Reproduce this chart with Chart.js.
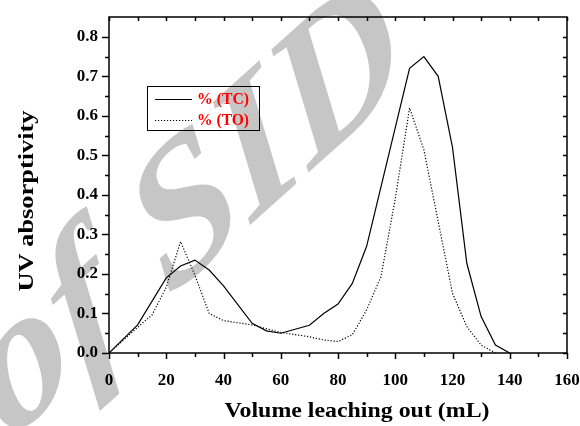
<!DOCTYPE html>
<html>
<head>
<meta charset="utf-8">
<script src="https://cdn.jsdelivr.net/npm/chart.js@4.4.0/dist/chart.umd.min.js"></script>
<style>
  html, body { margin: 0; padding: 0; background: #fff; }
  #wrap { width: 580px; height: 426px; }
</style>
</head>
<body>
<div id="wrap"><canvas id="chart" width="580" height="426"></canvas></div>
<script>
// volume leaching out (mL) and UV absorptivity
var tcVolume = [0, 10, 20, 25, 30, 35, 40, 50, 55, 60, 70, 75, 80, 85, 90, 105, 110, 115, 120, 125, 130, 135, 140];
var tcValues = [0, 0.071, 0.19, 0.22, 0.235, 0.21, 0.17, 0.075, 0.056, 0.05, 0.07, 0.10, 0.124, 0.176, 0.27, 0.72, 0.75, 0.70, 0.52, 0.227, 0.092, 0.02, 0];
var toVolume = [0, 10, 15, 20, 25, 30, 35, 40, 50, 60, 70, 75, 80, 85, 90, 95, 100, 105, 110, 120, 125, 130, 135];
var toValues = [0, 0.065, 0.096, 0.166, 0.282, 0.197, 0.10, 0.082, 0.071, 0.052, 0.041, 0.033, 0.029, 0.046, 0.109, 0.193, 0.39, 0.62, 0.514, 0.151, 0.067, 0.02, 0];
var seriesLabels = ['% (TC)', '% (TO)'];
var xTitle = 'Volume leaching out (mL)';
var yTitle = 'UV absorptivity';
var watermark = 'of SID';

var SERIF = '"Liberation Serif", "Times New Roman", serif';

function pairs(xs, ys) {
  return xs.map(function(x, i) { return {x: x, y: ys[i]}; });
}

// watermark, axis frame with minor ticks, titles and legend box
var decor = {
  id: 'decor',
  beforeDraw: function(chart) {
    var c = chart.ctx;
    c.save();
    // baseline climbs to the upper right, letter stems close to vertical
    c.transform(1.486, -1.338, 0.827, 1.644, 8, 443);
    c.font = 'bold italic 100px ' + SERIF;
    c.fillStyle = '#c6c6c6';
    c.textBaseline = 'alphabetic';
    c.fillText(watermark, 0, 0);
    c.restore();
  },
  afterDraw: function(chart) {
    var c = chart.ctx, a = chart.chartArea;
    var xs = chart.scales.x, ys = chart.scales.y;
    c.save();
    c.strokeStyle = '#000';
    c.lineWidth = 1.5;
    c.strokeRect(a.left, a.top, a.right - a.left, a.bottom - a.top);
    c.beginPath();
    for (var v = 0; v <= 160; v += 10) {
      var px = Math.round(xs.getPixelForValue(v)) + 0.5;
      var big = v % 20 === 0;
      c.moveTo(px, a.bottom); c.lineTo(px, a.bottom + (big ? 6 : 4));
      c.moveTo(px, a.top); c.lineTo(px, a.top + 4);
    }
    for (var k = 0; k <= 16; k++) {
      var py = Math.round(ys.getPixelForValue(k * 0.05)) + 0.5;
      var major = k % 2 === 0;
      c.moveTo(a.left, py); c.lineTo(a.left - (major ? 7 : 4), py);
      c.moveTo(a.right, py); c.lineTo(a.right - 4, py);
    }
    c.stroke();

    // axis titles
    c.fillStyle = '#000';
    c.font = 'bold 21px ' + SERIF;
    c.textAlign = 'center';
    c.textBaseline = 'alphabetic';
    var w = c.measureText(xTitle).width;
    c.save();
    c.translate(357, 417);
    c.scale(265 / w, 1);
    c.fillText(xTitle, 0, 0);
    c.restore();

    c.font = 'bold 22px ' + SERIF;
    w = c.measureText(yTitle).width;
    c.save();
    c.translate(33, 201);
    c.rotate(-Math.PI / 2);
    c.scale(181 / w, 1);
    c.fillText(yTitle, 0, 0);
    c.restore();

    // legend
    c.lineWidth = 1;
    c.strokeRect(147.5, 86.5, 112, 44);
    c.font = 'bold 16px ' + SERIF;
    c.textAlign = 'left';
    c.textBaseline = 'middle';
    chart.data.datasets.forEach(function(ds, i) {
      var ly = (i === 0 ? 99 : 120) + 0.5;
      c.strokeStyle = '#000';
      c.lineWidth = 1;
      c.setLineDash(ds.borderDash || []);
      c.beginPath();
      c.moveTo(155, ly); c.lineTo(192, ly);
      c.stroke();
      c.setLineDash([]);
      c.fillStyle = '#ff0000';
      var tw = c.measureText(ds.label).width;
      c.save();
      c.translate(197, ly);
      c.scale(52 / tw, 1);
      c.fillText(ds.label, 0, 0);
      c.restore();
    });
    c.restore();
  }
};

var chart = new Chart(document.getElementById('chart'), {
  type: 'line',
  data: {
    datasets: [{
      label: seriesLabels[0],
      data: pairs(tcVolume, tcValues),
      borderColor: '#000',
      borderWidth: 1.2,
      pointRadius: 0,
      tension: 0
    }, {
      label: seriesLabels[1],
      data: pairs(toVolume, toValues),
      borderColor: '#000',
      borderWidth: 1.2,
      borderDash: [1.2, 1.8],
      pointRadius: 0,
      tension: 0
    }]
  },
  options: {
    responsive: false,
    animation: false,
    layout: { padding: { top: 17, right: 13, left: 0, bottom: 0 } },
    plugins: { legend: { display: false }, tooltip: { enabled: false } },
    scales: {
      x: {
        type: 'linear',
        min: 0, max: 160,
        grid: { display: false, drawTicks: false },
        border: { display: false },
        ticks: {
          stepSize: 20, padding: 17, color: '#000', maxRotation: 0,
          font: { family: SERIF, size: 17, weight: 'bold' }
        },
        afterFit: function(s) { s.height = 73; s.paddingLeft = 0; s.paddingRight = 0; }
      },
      y: {
        min: 0, max: 0.85,
        grid: { display: false, drawTicks: false },
        border: { display: false },
        ticks: {
          stepSize: 0.1, padding: 11, color: '#000',
          font: { family: SERIF, size: 17, weight: 'bold' },
          callback: function(v) { return v.toFixed(1); }
        },
        afterBuildTicks: function(s) {
          s.ticks = s.ticks.filter(function(t) {
            return Math.abs(t.value * 10 - Math.round(t.value * 10)) < 1e-6;
          });
        },
        afterFit: function(s) { s.width = 109; s.paddingTop = 0; s.paddingBottom = 0; }
      }
    }
  },
  plugins: [decor]
});
</script>
</body>
</html>
